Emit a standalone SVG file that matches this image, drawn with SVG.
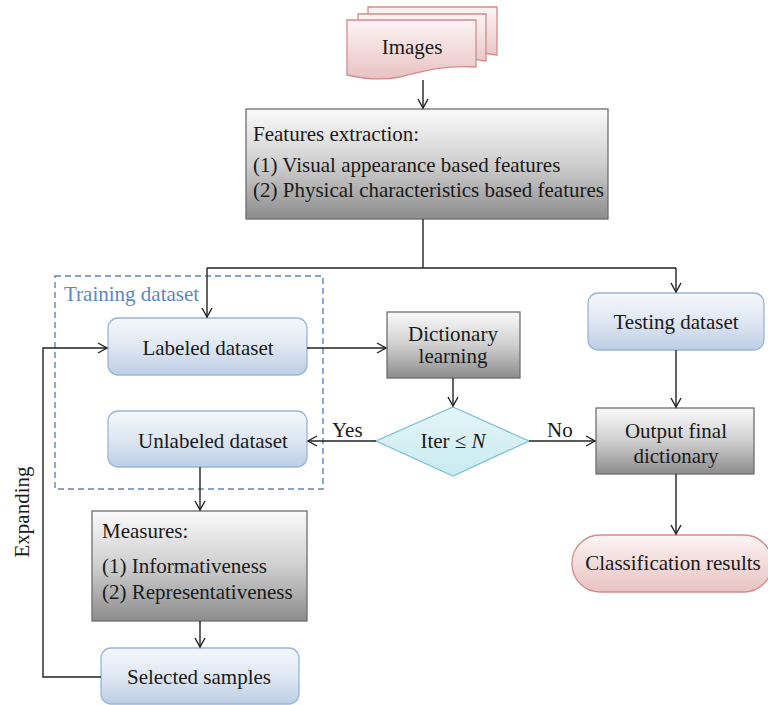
<svg xmlns="http://www.w3.org/2000/svg" width="768" height="705" viewBox="0 0 768 705">
<defs>
<linearGradient id="gBlue" x1="0" y1="0" x2="0" y2="1"><stop offset="0" stop-color="#f5f8fc"/><stop offset="0.5" stop-color="#dfe7f2"/><stop offset="1" stop-color="#bccee5"/></linearGradient>
<linearGradient id="gGray" x1="0" y1="0" x2="0" y2="1"><stop offset="0" stop-color="#fafafa"/><stop offset="0.5" stop-color="#cfcfcf"/><stop offset="1" stop-color="#8c8c8c"/></linearGradient>
<linearGradient id="gPink" x1="0" y1="0" x2="0" y2="1"><stop offset="0" stop-color="#fdf4f4"/><stop offset="1" stop-color="#e8c2c2"/></linearGradient>
<linearGradient id="gCyan" x1="0" y1="0" x2="0" y2="1"><stop offset="0" stop-color="#e4f5f8"/><stop offset="1" stop-color="#c9ebf1"/></linearGradient>
<marker id="arr" markerWidth="12" markerHeight="12" refX="10" refY="6" orient="auto" markerUnits="userSpaceOnUse"><path d="M1,1 L10,6 L1,11" fill="none" stroke="#222" stroke-width="1.4"/></marker>
</defs>
<style>
text{font-family:"Liberation Serif","Times New Roman",serif;font-size:21px;fill:#1a1a1a}
.c{text-anchor:middle}
.blue{fill:url(#gBlue);stroke:#9ab5da;stroke-width:1.3}
.gray{fill:url(#gGray);stroke:#6e6e6e;stroke-width:1.3}
.pink{fill:url(#gPink);stroke:#d48c8c;stroke-width:1.3}
.ln{fill:none;stroke:#222;stroke-width:1.4}
</style>
<rect width="768" height="705" fill="#fff"/>
<g id="training">
<rect x="55" y="276" width="268" height="213" fill="none" stroke="#5b87c5" stroke-width="1.4" stroke-dasharray="6,4"/>
<text x="64" y="301" style="fill:#5b87c5">Training dataset</text>
</g>
<g id="images">
<path class="pink" d="M368,7 H497 V55 Q470,50 440,56 L368,60 Z"/>
<path class="pink" d="M358,14 H486 V61 Q460,56 430,63 L358,67 Z"/>
<path class="pink" d="M347,20 H476 V67 C440,65 420,72 400,77 C380,81 360,78 347,75 Z"/>
<text class="c" x="412" y="54">Images</text>
</g>
<g id="features">
<rect class="gray" x="246" y="109" width="362" height="110"/>
<text x="253" y="141">Features extraction:</text>
<text x="253" y="172">(1) Visual appearance based features</text>
<text x="253" y="197">(2) Physical characteristics based features</text>
</g>
<g id="labeled">
<rect class="blue" x="108" y="318" width="199" height="57" rx="10"/>
<text class="c" x="208" y="355">Labeled dataset</text>
</g>
<g id="unlabeled">
<rect class="blue" x="108" y="411" width="199" height="56" rx="10"/>
<text class="c" x="213" y="448">Unlabeled dataset</text>
</g>
<g id="dictionary">
<rect class="gray" x="387" y="312" width="133" height="66"/>
<text class="c" x="453" y="341">Dictionary</text>
<text class="c" x="453" y="363">learning</text>
</g>
<g id="iter">
<path d="M453,407 L529,441 L453,476 L376,441 Z" fill="url(#gCyan)" stroke="#7cc3d3" stroke-width="1.3"/>
<text class="c" x="453" y="448">Iter ≤ <tspan font-style="italic">N</tspan></text>
</g>
<g id="testing">
<rect class="blue" x="588" y="293" width="176" height="57" rx="10"/>
<text class="c" x="676" y="329">Testing dataset</text>
</g>
<g id="output">
<rect class="gray" x="596" y="408" width="158" height="66"/>
<text class="c" x="676" y="438">Output final</text>
<text class="c" x="676" y="463">dictionary</text>
</g>
<g id="classification">
<rect class="pink" x="572" y="535" width="200" height="57" rx="28"/>
<text class="c" x="673" y="570">Classification results</text>
</g>
<g id="measures">
<rect class="gray" x="92" y="511" width="215" height="110"/>
<text x="102" y="538">Measures:</text>
<text x="102" y="573">(1) Informativeness</text>
<text x="102" y="599">(2) Representativeness</text>
</g>
<g id="selected">
<rect class="blue" x="101" y="648" width="198" height="56" rx="10"/>
<text class="c" x="199" y="684">Selected samples</text>
</g>
<g id="expanding">
<text class="c" x="0" y="0" transform="translate(29,512) rotate(-90)">Expanding</text>
</g>
<g id="connectors">
<path class="ln" d="M423,80 V108" marker-end="url(#arr)"/>
<path class="ln" d="M423,219 V268"/>
<path class="ln" d="M207,268 H676"/>
<path class="ln" d="M207,268 V317" marker-end="url(#arr)"/>
<path class="ln" d="M676,268 V292" marker-end="url(#arr)"/>
<path class="ln" d="M307,348 H386" marker-end="url(#arr)"/>
<path class="ln" d="M453,378 V406" marker-end="url(#arr)"/>
<path class="ln" d="M376,441 H308" marker-end="url(#arr)"/>
<text x="332" y="437">Yes</text>
<path class="ln" d="M529,441 H595" marker-end="url(#arr)"/>
<text x="547" y="437">No</text>
<path class="ln" d="M676,350 V407" marker-end="url(#arr)"/>
<path class="ln" d="M676,474 V534" marker-end="url(#arr)"/>
<path class="ln" d="M200,467 V510" marker-end="url(#arr)"/>
<path class="ln" d="M200,621 V647" marker-end="url(#arr)"/>
<path class="ln" d="M101,677 H43 V348 H107" marker-end="url(#arr)"/>
</g>
</svg>
